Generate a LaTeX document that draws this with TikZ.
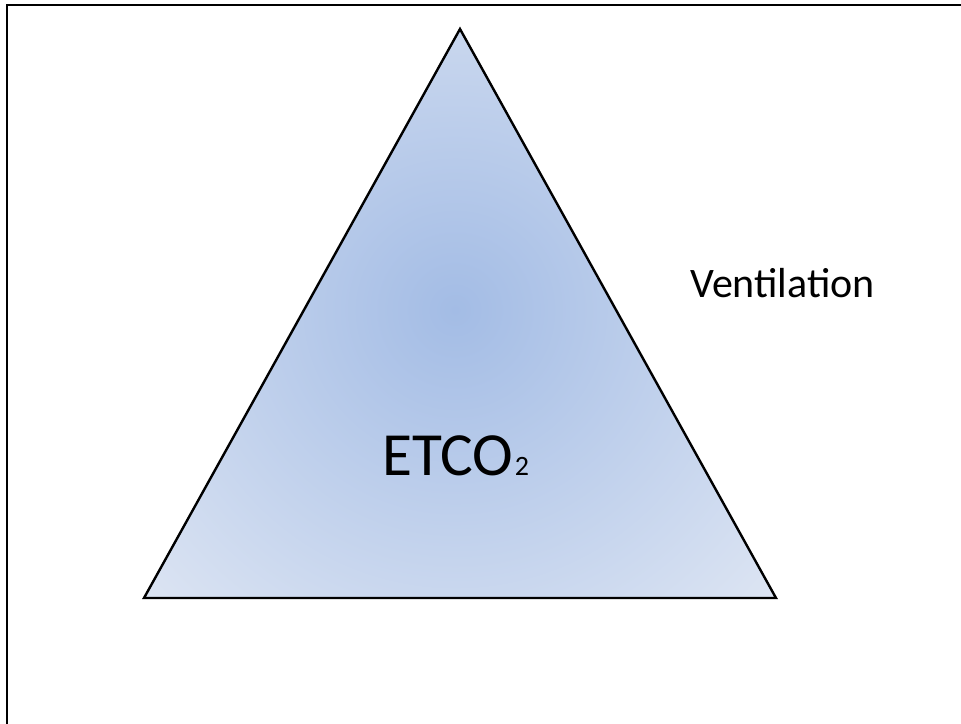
\documentclass[tikz,border=0pt]{standalone}
\usepackage{fontspec}
\setmainfont{Carlito}
\definecolor{incol}{HTML}{A3BCE5}
\definecolor{outcol}{HTML}{DDE5F3}
\begin{document}
\begin{tikzpicture}[x=0.75pt,y=-0.75pt,
  lbl/.style={inner sep=0pt,anchor=base west,text=black},
  tri/.style={draw=black,line width=1.8pt,line join=miter}]
\useasboundingbox (0,0) rectangle (961,724);
\fill[white] (0,0) rectangle (961,724);
\draw[line width=2pt] (7,5) rectangle (975,740);
\coordinate (A) at (460,29);
\coordinate (B) at (144,598);
\coordinate (C) at (776,598);
\begin{scope}
\clip (A) -- (B) -- (C) -- cycle;
\fill[outcol] (A) -- (B) -- (C) -- cycle;
\shade[inner color=incol,outer color=outcol] (455,310) circle (430);
\end{scope}
\draw[tri] (A) -- (B) -- (C) -- cycle;
\node[lbl,font=\fontsize{46}{50}\selectfont] (etco) at (382,475) {ETCO\kern1pt\raisebox{-0.5pt}{\fontsize{21}{23}\selectfont 2}};
\node[lbl,font=\fontsize{31.5}{34}\selectfont] (vent) at (690,297) {Ventilation};
\end{tikzpicture}
\end{document}
